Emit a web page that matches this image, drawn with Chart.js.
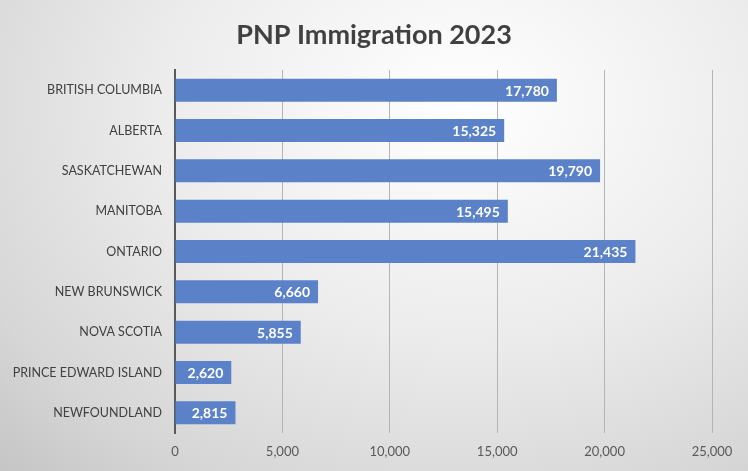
<!DOCTYPE html>
<html>
<head>
<meta charset="utf-8">
<script src="https://cdn.jsdelivr.net/npm/chart.js@4"></script>
<style>
  html, body { margin: 0; padding: 0; }
  #wrap {
    width: 748px; height: 471px; position: relative;
    background: radial-gradient(ellipse 90% 110% at 62% 22%, #ffffff 0%, #ececec 45%, #d6d6d6 80%, #c4c4c4 100%);
  }
</style>
</head>
<body>
<div id="wrap"><canvas id="chart-pnp" width="748" height="471"></canvas></div>
<script>
const chartTitle = 'PNP Immigration 2023';
const provinces = ['BRITISH COLUMBIA', 'ALBERTA', 'SASKATCHEWAN', 'MANITOBA', 'ONTARIO',
  'NEW BRUNSWICK', 'NOVA SCOTIA', 'PRINCE EDWARD ISLAND', 'NEWFOUNDLAND'];
const admissions = [17780, 15325, 19790, 15495, 21435, 6660, 5855, 2620, 2815];
const xTicks = [0, 5000, 10000, 15000, 20000, 25000];

const FONT = 'Lato, "Open Sans", sans-serif';

// title centred on the whole canvas (built-in title would centre over the padded box)
const centredTitle = {
  id: 'centredTitle',
  afterDraw(chart) {
    const ctx = chart.ctx;
    ctx.save();
    ctx.fillStyle = '#404040';
    ctx.font = 'bold 27px ' + FONT;
    ctx.textAlign = 'center';
    ctx.textBaseline = 'middle';
    ctx.fillText(chartTitle, chart.width / 2, 35);
    ctx.restore();
  }
};

// white value labels at the end of each bar
const barLabels = {
  id: 'barLabels',
  afterDatasetsDraw(chart) {
    const ctx = chart.ctx;
    ctx.save();
    ctx.fillStyle = '#ffffff';
    ctx.font = 'bold 14px ' + FONT;
    ctx.textAlign = 'right';
    ctx.textBaseline = 'middle';
    chart.getDatasetMeta(0).data.forEach((bar, i) => {
      ctx.fillText(admissions[i].toLocaleString('en-US'), bar.x - 8, bar.y + 1);
    });
    ctx.restore();
  }
};

new Chart(document.getElementById('chart-pnp'), {
  type: 'bar',
  data: {
    labels: provinces,
    datasets: [{
      data: admissions,
      backgroundColor: '#5b82c9',
      categoryPercentage: 1,
      barPercentage: 0.57
    }]
  },
  options: {
    indexAxis: 'y',
    responsive: false,
    animation: false,
    layout: { padding: { left: 0, right: 36, top: 70, bottom: 0 } },
    plugins: {
      legend: { display: false },
      tooltip: { enabled: false },
      title: { display: false }
    },
    scales: {
      x: {
        min: 0, max: 25000,
        afterBuildTicks: axis => { axis.ticks = xTicks.map(v => ({ value: v })); },
        afterFit: axis => { axis.height = 38; },
        grid: { color: '#b4b4b4', drawTicks: false },
        border: { display: false },
        ticks: {
          color: '#595959', padding: 11,
          font: { family: FONT, size: 13 },
          callback: v => v.toLocaleString('en-US')
        }
      },
      y: {
        afterFit: axis => { axis.width = 175; },
        grid: { display: false, drawTicks: false },
        border: { display: true, color: '#595959', width: 2 },
        ticks: {
          color: '#404040', padding: 13,
          font: { family: FONT, size: 12.5 }
        }
      }
    }
  },
  plugins: [barLabels, centredTitle]
});
</script>
</body>
</html>
